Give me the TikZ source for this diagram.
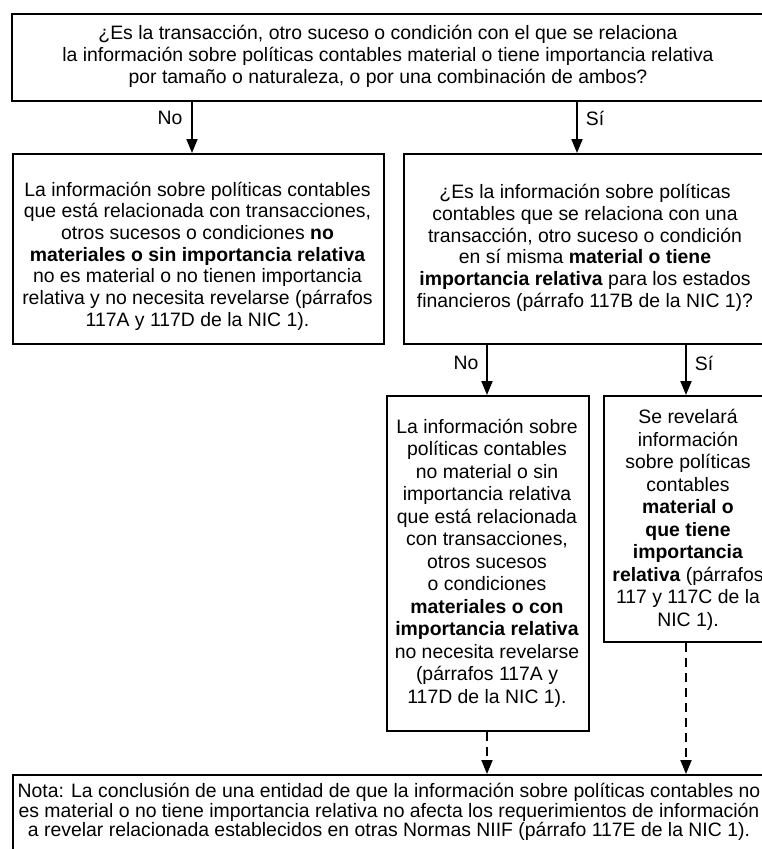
\documentclass[tikz,border=0pt]{standalone}
\usepackage{fontspec}
\setmainfont{Liberation Sans}
\usetikzlibrary{arrows.meta,positioning}

\begin{document}
\begin{tikzpicture}[x=1pt,y=-1pt,
    frame/.style={draw, line width=2.4pt, inner sep=0pt, anchor=north west},
    txt/.style={inner sep=0pt, align=center, font=\fontsize{19.4}{21.7}\selectfont},
    lowtxt/.style={txt, font=\fontsize{19.4}{22.5}\selectfont},
    arr/.style={line width=2pt, -{Triangle[length=14pt,width=11pt]}},
    darr/.style={arr, dash pattern=on 9pt off 6pt},
    lbl/.style={font=\fontsize{19.4}{21.7}\selectfont}]
    \useasboundingbox (0,0) rectangle (761,849);
    % columns of the arrows
    \coordinate (cno) at (192,0);
    \coordinate (csi) at (577,0);
    \coordinate (cno2) at (487,0);
    \coordinate (csi2) at (686,0);
    % frames
    \node[frame, minimum width=900pt, minimum height=87pt] (q1) at (11,13) {};
    \node[frame, minimum width=371pt, minimum height=190pt] (nolbox) at (12,153) {};
    \node[frame, minimum width=500pt, minimum height=190pt] (q2) at (403,153) {};
    \node[frame, minimum width=202pt, minimum height=335pt] (midbox) at (386,395) {};
    \node[frame, minimum width=300pt, minimum height=246pt] (sibox) at (603,395) {};
    \node[frame, minimum width=900pt, minimum height=90pt] (nota) at (12,774) {};
    % texts
    \node[txt] (q1txt) at (388,56.5)
      {¿Es la transacción, otro suceso o condición con el que se relaciona\\
       la información sobre políticas contables material o tiene importancia relativa\\
       por tamaño o naturaleza, o por una combinación de ambos?};
    \node[txt] (noltxt) at (197.5,256)
      {La información sobre políticas contables\\
       que está relacionada con transacciones,\\
       otros sucesos o condiciones \textbf{no}\\
       \textbf{materiales o sin importancia relativa}\\
       no es material o no tienen importancia\\
       relativa y no necesita revelarse (párrafos\\
       117A y 117D de la NIC 1).};
    \node[txt] (q2txt) at (585,248)
      {¿Es la información sobre políticas\\
       contables que se relaciona con una\\
       transacción, otro suceso o condición\\
       en sí misma \textbf{material o tiene}\\
       \textbf{importancia relativa} para los estados\\
       financieros (párrafo 117B de la NIC 1)?};
    \node[lowtxt] (midtxt) at (487,563)
      {La información sobre\\
       políticas contables\\
       no material o sin\\
       importancia relativa\\
       que está relacionada\\
       con transacciones,\\
       otros sucesos\\
       o condiciones\\
       \textbf{materiales o con}\\
       \textbf{importancia relativa}\\
       no necesita revelarse\\
       (párrafos 117A y\\
       117D de la NIC 1).};
    \node[lowtxt] (sitxt) at (688,520)
      {Se revelará\\
       información\\
       sobre políticas\\
       contables\\
       \textbf{material o}\\
       \textbf{que tiene}\\
       \textbf{importancia}\\
       \textbf{relativa} (párrafos\\
       117 y 117C de la\\
       NIC 1).};
    \node[txt, font=\fontsize{19.4}{18.3}\selectfont] (notatxt) at (389,812)
      {Nota: La conclusión de una entidad de que la información sobre políticas contables no\\
       es material o no tiene importancia relativa no afecta los requerimientos de información\\
       a revelar relacionada establecidos en otras Normas NIIF (párrafo 117E de la NIC 1).};
    % connectors
    \draw[arr] (q1.south -| cno) -- (nolbox.north -| cno);
    \draw[arr] (q1.south -| csi) -- (q2.north -| csi);
    \draw[arr] (q2.south -| cno2) -- (midbox.north -| cno2);
    \draw[arr] (q2.south -| csi2) -- (sibox.north -| csi2);
    \draw[darr] (midbox.south -| cno2) -- (nota.north -| cno2);
    \draw[darr] (sibox.south -| csi2) -- (nota.north -| csi2);
    % labels
    \node[lbl] (lno1) at (170,118) {No};
    \node[lbl] (lsi1) at (595,118) {Sí};
    \node[lbl] (lno2) at (466,363) {No};
    \node[lbl] (lsi2) at (704,363) {Sí};
\end{tikzpicture}
\end{document}
